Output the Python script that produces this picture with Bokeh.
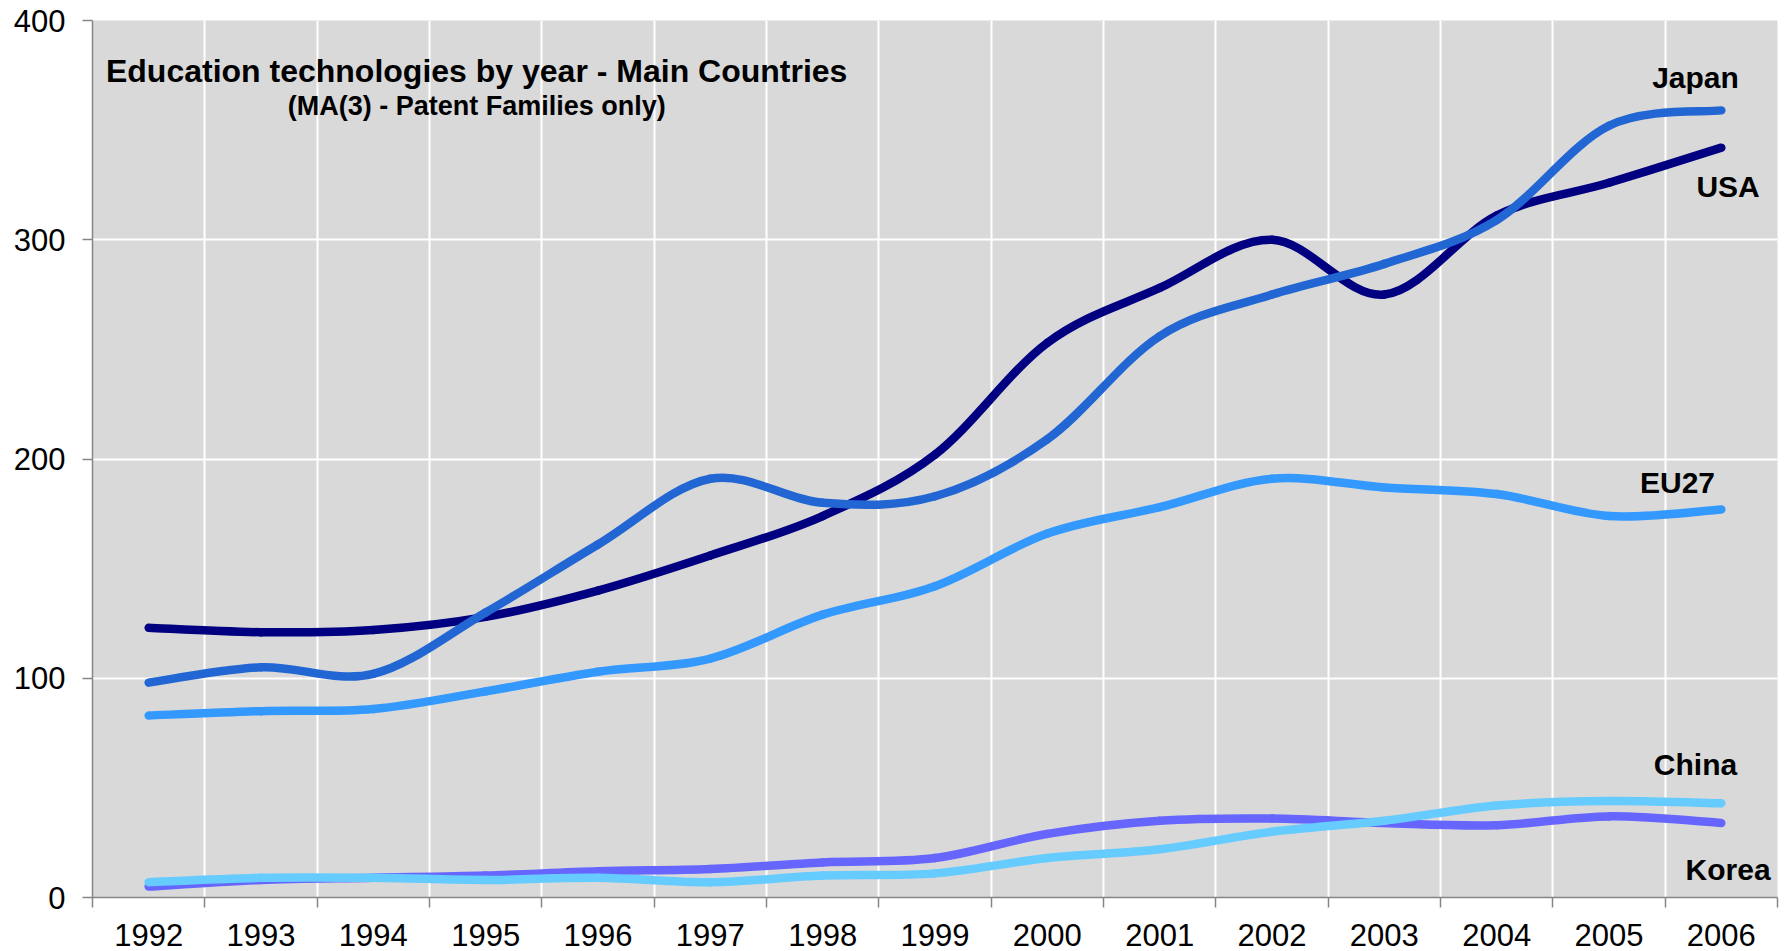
import numpy as np
from bokeh.plotting import figure
from bokeh.models import Range1d, FixedTicker, Label, ColumnDataSource
from bokeh.embed import file_html
from bokeh.resources import INLINE

years = list(range(1992, 2007))
year_labels = [str(y) for y in years]
japan = [98, 105, 102, 130, 161, 191, 180, 183, 209, 256, 275, 289, 309, 352, 359]
usa = [123, 121, 122, 128, 140, 156, 174, 202, 253, 278, 300, 275, 311, 326, 342]
eu27 = [83, 85, 86, 94, 103, 109, 129, 142, 166, 178, 191, 187, 184, 174, 177]
china = [7, 9, 9, 8, 9, 7, 10, 11, 18, 22, 30, 35, 42, 44, 43]
korea = [5, 8, 9, 10, 12, 13, 16, 18, 29, 35, 36, 34, 33, 37, 34]

series = [
    ("USA", usa, "#000080"),
    ("Japan", japan, "#2166D2"),
    ("EU27", eu27, "#3399FF"),
    ("Korea", korea, "#6666FF"),
    ("China", china, "#66CCFF"),
]

FONT = "Liberation Sans"

p = figure(width=1787, height=951, output_backend="svg", toolbar_location=None,
           x_range=Range1d(1991.5, 2006.5), y_range=Range1d(0, 400),
           min_border_left=92, min_border_right=10, min_border_top=20, min_border_bottom=54)
p.background_fill_color = "#D9D9D9"
p.border_fill_color = "white"
p.outline_line_color = None

edges = [1991.5 + i for i in range(16)]
p.xaxis.ticker = FixedTicker(ticks=years, minor_ticks=edges)
p.xaxis.major_label_overrides = {y: s for y, s in zip(years, year_labels)}
p.xaxis.major_label_text_font = FONT
p.xaxis.major_label_text_font_size = "31px"
p.xaxis.major_label_text_color = "black"
p.xaxis.major_label_standoff = 16
p.xaxis.major_tick_out = 0
p.xaxis.major_tick_in = 0
p.xaxis.minor_tick_out = 10
p.xaxis.minor_tick_in = 0
p.xaxis.axis_line_color = "#868686"
p.xaxis.minor_tick_line_color = "#868686"
p.xaxis.axis_line_width = 1.5
p.xaxis.minor_tick_line_width = 1.5

p.yaxis.ticker = FixedTicker(ticks=[0, 100, 200, 300, 400])
p.yaxis.major_label_text_font = FONT
p.yaxis.major_label_text_font_size = "31px"
p.yaxis.major_label_text_color = "black"
p.yaxis.major_label_standoff = 17
p.yaxis.major_tick_out = 10
p.yaxis.major_tick_in = 0
p.yaxis.minor_tick_out = 0
p.yaxis.minor_tick_in = 0
p.yaxis.axis_line_color = "#868686"
p.yaxis.major_tick_line_color = "#868686"
p.yaxis.axis_line_width = 1.5
p.yaxis.major_tick_line_width = 1.5

p.xgrid.grid_line_color = None
p.xgrid.minor_grid_line_color = "white"
p.xgrid.minor_grid_line_width = 2
p.ygrid.grid_line_color = "white"
p.ygrid.grid_line_width = 2

def smooth_segments(xs, ys):
    xs = np.asarray(xs, float)
    ys = np.asarray(ys, float)
    n = len(xs)
    d = dict(x0=[], y0=[], x1=[], y1=[], cx0=[], cy0=[], cx1=[], cy1=[])
    for i in range(n - 1):
        i0 = max(i - 1, 0)
        i3 = min(i + 2, n - 1)
        d["x0"].append(xs[i]); d["y0"].append(ys[i])
        d["x1"].append(xs[i + 1]); d["y1"].append(ys[i + 1])
        d["cx0"].append(xs[i] + (xs[i + 1] - xs[i0]) / 6)
        d["cy0"].append(ys[i] + (ys[i + 1] - ys[i0]) / 6)
        d["cx1"].append(xs[i + 1] - (xs[i3] - xs[i]) / 6)
        d["cy1"].append(ys[i + 1] - (ys[i3] - ys[i]) / 6)
    return ColumnDataSource(d)

for name, vals, col in series:
    src = smooth_segments(years, vals)
    p.bezier(x0="x0", y0="y0", x1="x1", y1="y1", cx0="cx0", cy0="cy0", cx1="cx1", cy1="cy1",
             source=src, line_color=col, line_width=8.5, line_cap="round", line_join="round")

# series labels
series_labels = [("Japan", 2005.77, 374), ("USA", 2006.06, 324.3), ("EU27", 2005.61, 189.3),
                 ("China", 2005.77, 60.6), ("Korea", 2006.06, 12.7)]
for t, lx, ly in series_labels:
    p.add_layout(Label(x=lx, y=ly, text=t, text_font=FONT, text_font_size="30px",
                       text_font_style="bold", text_color="black", text_align="center",
                       text_baseline="alphabetic"))

p.add_layout(Label(x=1994.92, y=377.0, text="Education technologies by year - Main Countries",
                   text_font=FONT, text_font_size="32px", text_font_style="bold",
                   text_color="black", text_align="center", text_baseline="alphabetic"))
p.add_layout(Label(x=1994.92, y=361.2, text="(MA(3) - Patent Families only)",
                   text_font=FONT, text_font_size="27px", text_font_style="bold",
                   text_color="black", text_align="center", text_baseline="alphabetic"))

open("out.html", "w").write(file_html(p, INLINE))
